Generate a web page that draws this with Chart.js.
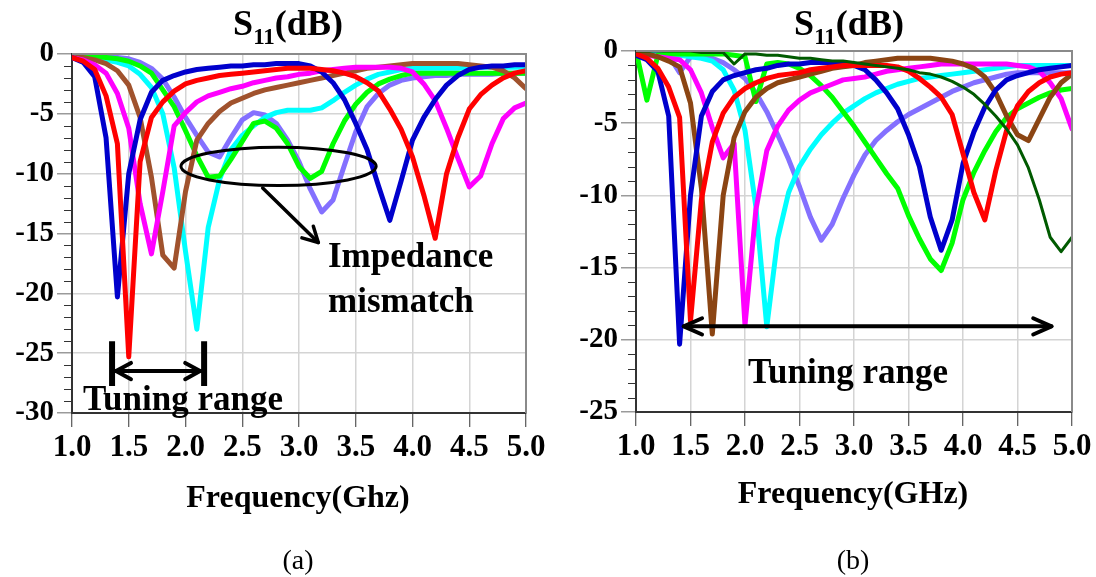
<!DOCTYPE html>
<html><head><meta charset="utf-8">
<script src="https://cdn.jsdelivr.net/npm/chart.js@4.4.1/dist/chart.umd.min.js"></script>
<style>
html,body{margin:0;padding:0;background:#fff;}
#wrap{position:relative;width:1096px;height:577px;overflow:hidden;background:#fff;}
.cv{position:absolute;top:0;width:548px;height:577px;}
canvas{display:block;}
</style></head><body>
<div id="wrap">
<div class="cv" style="left:0"><canvas id="ca" width="548" height="577"></canvas></div>
<div class="cv" style="left:548px"><canvas id="cb" width="548" height="577"></canvas></div>
</div>
<script>
// ---------------- DATA ----------------
const freq = [1.0,1.1,1.2,1.3,1.4,1.5,1.6,1.7,1.8,1.9,2.0,2.1,2.2,2.3,2.4,2.5,2.6,2.7,2.8,2.9,3.0,
              3.1,3.2,3.3,3.4,3.5,3.6,3.7,3.8,3.9,4.0,4.1,4.2,4.3,4.4,4.5,4.6,4.7,4.8,4.9,5.0];
const xTickValues = [1.0,1.5,2.0,2.5,3.0,3.5,4.0,4.5,5.0];
const xTickLabels = ['1.0','1.5','2.0','2.5','3.0','3.5','4.0','4.5','5.0'];
const yTickValuesA = [0,-5,-10,-15,-20,-25,-30];
const yTickLabelsA = ['0','-5','-10','-15','-20','-25','-30'];
const yTickValuesB = [0,-5,-10,-15,-20,-25];
const yTickLabelsB = ['0','-5','-10','-15','-20','-25'];

// panel (a)
const blueA    = [-0.3,-0.7,-1.9,-7.0,-20.3,-10.0,-5.5,-3.2,-2.2,-1.8,-1.5,-1.3,-1.2,-1.1,-1.0,-1.0,-0.9,-0.9,-0.8,-0.8,-0.8,-1.0,-1.5,-2.4,-3.8,-5.8,-8.0,-11.0,-13.9,-10.6,-7.2,-5.3,-3.8,-2.6,-1.8,-1.3,-1.1,-1.0,-1.0,-0.9,-0.9];
const redA     = [-0.3,-0.6,-1.3,-3.5,-7.5,-25.3,-9.0,-5.3,-4.0,-3.1,-2.5,-2.2,-2.0,-1.8,-1.7,-1.6,-1.5,-1.4,-1.3,-1.2,-1.2,-1.2,-1.3,-1.4,-1.6,-1.9,-2.4,-3.1,-4.6,-6.3,-8.6,-11.8,-15.4,-10.0,-7.0,-4.6,-3.4,-2.6,-2.0,-1.6,-1.4];
const magentaA = [-0.3,-0.5,-0.9,-1.6,-3.3,-6.2,-12.5,-16.7,-11.5,-6.0,-4.9,-4.0,-3.5,-3.2,-2.9,-2.7,-2.4,-2.2,-2.0,-1.9,-1.7,-1.6,-1.4,-1.3,-1.2,-1.1,-1.1,-1.1,-1.1,-1.2,-1.5,-2.5,-3.9,-6.2,-8.7,-11.1,-10.2,-7.5,-5.4,-4.5,-4.1];
const brownA   = [-0.2,-0.3,-0.5,-0.8,-1.4,-2.6,-5.3,-10.3,-16.8,-17.9,-11.5,-7.2,-5.8,-4.8,-4.1,-3.7,-3.3,-3.0,-2.8,-2.6,-2.4,-2.2,-2.0,-1.8,-1.6,-1.4,-1.2,-1.1,-1.0,-0.9,-0.8,-0.8,-0.8,-0.8,-0.8,-0.9,-1.0,-1.1,-1.4,-2.0,-2.9];
const cyanA    = [-0.1,-0.2,-0.3,-0.5,-0.7,-1.0,-1.7,-2.8,-5.0,-9.5,-16.5,-23.0,-14.5,-10.5,-8.0,-6.8,-6.0,-5.3,-4.9,-4.7,-4.7,-4.7,-4.5,-3.9,-3.2,-2.6,-2.1,-1.7,-1.5,-1.3,-1.2,-1.2,-1.2,-1.2,-1.2,-1.1,-1.1,-1.1,-1.1,-1.1,-1.1];
const greenA   = [-0.1,-0.1,-0.2,-0.3,-0.4,-0.6,-1.0,-1.6,-3.0,-4.4,-6.4,-8.5,-10.3,-10.2,-8.8,-7.3,-5.8,-5.6,-6.2,-7.5,-9.4,-10.4,-9.8,-7.5,-5.6,-4.2,-3.2,-2.5,-2.1,-1.8,-1.6,-1.6,-1.6,-1.6,-1.6,-1.6,-1.6,-1.6,-1.6,-1.6,-1.6];
const purpleA  = [0.0,-0.1,-0.1,-0.2,-0.3,-0.4,-0.7,-1.2,-2.1,-3.6,-5.3,-6.8,-8.2,-8.6,-7.0,-5.5,-4.9,-5.1,-5.8,-7.2,-9.0,-11.3,-13.2,-12.2,-9.3,-6.5,-4.4,-3.3,-2.6,-2.2,-2.0,-1.9,-1.8,-1.8,-1.7,-1.7,-1.7,-1.7,-1.6,-1.6,-1.6];

// panel (b)
const blueB      = [-0.3,-0.6,-1.4,-4.5,-20.3,-10.0,-4.5,-2.8,-2.0,-1.7,-1.5,-1.3,-1.2,-1.0,-0.9,-0.9,-0.8,-0.8,-0.8,-0.9,-1.0,-1.3,-2.0,-2.9,-4.0,-5.8,-8.0,-11.5,-13.8,-11.7,-7.8,-5.6,-3.9,-2.7,-2.0,-1.7,-1.5,-1.3,-1.2,-1.1,-1.0];
const redB       = [-0.2,-0.5,-1.2,-2.5,-4.6,-18.7,-10.3,-6.3,-4.3,-3.2,-2.6,-2.2,-1.9,-1.7,-1.6,-1.5,-1.3,-1.2,-1.1,-1.0,-1.0,-1.0,-1.0,-1.0,-1.1,-1.4,-1.9,-2.5,-3.2,-4.4,-7.1,-9.8,-11.7,-8.3,-5.5,-3.8,-2.8,-2.2,-1.8,-1.6,-1.5];
const brownB     = [-0.1,-0.2,-0.4,-0.7,-1.1,-3.6,-9.5,-19.6,-10.0,-6.0,-4.2,-3.2,-2.6,-2.2,-2.0,-1.8,-1.6,-1.4,-1.2,-1.1,-1.0,-0.8,-0.7,-0.6,-0.5,-0.5,-0.5,-0.5,-0.6,-0.7,-0.9,-1.2,-1.8,-2.9,-4.5,-5.8,-6.2,-4.7,-3.2,-2.2,-1.6];
const magentaB   = [-0.2,-0.3,-0.4,-0.5,-0.6,-1.3,-2.9,-5.3,-7.4,-6.4,-19.0,-11.0,-6.9,-5.2,-4.1,-3.4,-2.9,-2.6,-2.3,-2.0,-1.9,-1.8,-1.6,-1.4,-1.3,-1.2,-1.1,-1.0,-0.9,-0.9,-0.9,-0.9,-0.9,-0.9,-0.9,-1.0,-1.1,-1.4,-2.2,-3.3,-5.4];
const cyanB      = [-0.1,-0.2,-0.3,-0.3,-0.3,-0.4,-0.5,-0.7,-1.3,-2.7,-5.5,-10.8,-19.1,-13.0,-9.8,-8.0,-6.8,-5.8,-5.0,-4.3,-3.8,-3.3,-2.9,-2.6,-2.3,-2.1,-1.9,-1.8,-1.7,-1.6,-1.5,-1.4,-1.3,-1.2,-1.1,-1.0,-1.0,-1.0,-1.0,-1.0,-1.0];
const purpleB    = [-0.1,-0.2,-0.2,-0.3,-1.5,-0.4,-0.4,-0.5,-0.8,-1.3,-1.9,-2.9,-4.2,-5.8,-7.5,-9.4,-11.5,-13.1,-12.0,-10.2,-8.6,-7.2,-6.2,-5.5,-4.9,-4.4,-4.0,-3.6,-3.2,-2.8,-2.5,-2.2,-2.0,-1.8,-1.6,-1.5,-1.5,-1.5,-1.5,-1.5,-1.5];
const greenB     = [0.0,-3.4,-0.3,-0.2,-0.2,-0.2,-0.2,-0.2,-0.2,-0.3,-0.4,-3.5,-0.9,-0.8,-0.9,-1.2,-1.7,-2.4,-3.2,-4.2,-5.2,-6.3,-7.4,-8.5,-9.5,-11.4,-13.0,-14.4,-15.2,-13.3,-10.3,-8.4,-6.9,-5.6,-4.6,-4.0,-3.6,-3.2,-2.9,-2.7,-2.6];
const darkGreenB = [0.0,0.0,0.0,0.0,0.0,0.0,-0.1,-0.1,-0.1,-0.9,-0.2,-0.2,-0.3,-0.3,-0.4,-0.5,-0.5,-0.6,-0.7,-0.7,-0.8,-0.9,-1.0,-1.1,-1.2,-1.3,-1.5,-1.6,-1.8,-2.1,-2.5,-3.0,-3.7,-4.5,-5.4,-6.5,-8.1,-10.3,-12.9,-13.9,-12.9];

// ---------------- STYLE ----------------
const FONT = '"Liberation Serif","Times New Roman",Times,serif';
const C = {blue:'#0000CC', red:'#FF0000', magenta:'#FF00FF', brownA:'#A0522D', brownB:'#8B4513',
           cyan:'#00FFFF', green:'#00FF00', purple:'#8470FF', dkgreen:'#005A00'};

function pts(arr){ return freq.map((f,i)=>({x:f,y:arr[i]})); }
function ds(arr,color,w){ return {data:pts(arr),borderColor:color,borderWidth:w||5,pointRadius:0,fill:false,tension:0}; }

function arrowHead(ctx,x,y,ang,len,spread){
  ctx.beginPath();
  ctx.moveTo(x - len*Math.cos(ang-spread), y - len*Math.sin(ang-spread));
  ctx.lineTo(x,y);
  ctx.lineTo(x - len*Math.cos(ang+spread), y - len*Math.sin(ang+spread));
  ctx.stroke();
}
function drawTitle(ctx,cx,base){
  ctx.save();
  ctx.fillStyle='#000'; ctx.textAlign='left'; ctx.textBaseline='alphabetic';
  const big='bold 36px '+FONT, small='bold 23px '+FONT;
  ctx.font=big; const w1=ctx.measureText('S').width, w3=ctx.measureText('(dB)').width;
  ctx.font=small; const w2=ctx.measureText('11').width;
  let x=cx-(w1+w2+w3)/2;
  ctx.font=big; ctx.fillText('S',x,base); x+=w1;
  ctx.font=small; ctx.fillText('11',x,base+9); x+=w2;
  ctx.font=big; ctx.fillText('(dB)',x,base);
  ctx.restore();
}
function text(ctx,str,x,y,size,bold,align){
  ctx.save(); ctx.fillStyle='#000';
  ctx.font=(bold?'bold ':'')+size+'px '+FONT;
  ctx.textAlign=align||'center'; ctx.textBaseline='alphabetic';
  ctx.fillText(str,x,y); ctx.restore();
}
function frameAndMinor(chart, yMin){
  const {ctx, chartArea:a, scales:{y}} = chart;
  ctx.save();
  ctx.strokeStyle='#333'; ctx.lineWidth=1;
  for(let v=0; v>=yMin; v--){
    if(v%5===0) continue;
    const py=Math.round(y.getPixelForValue(v))+0.5;
    ctx.beginPath(); ctx.moveTo(a.left-8,py); ctx.lineTo(a.left,py); ctx.stroke();
  }
  ctx.strokeStyle='#8a8a8a'; ctx.lineWidth=2;
  ctx.beginPath(); ctx.moveTo(a.left,a.top); ctx.lineTo(a.right,a.top); ctx.lineTo(a.right,a.bottom); ctx.stroke();
  ctx.restore();
}

// annotation anchors (data coordinates)
const annA = {ellipse:{f:2.82, db:-9.39, rf:0.86, rdb:1.6},
              arrow:{f1:2.68, db1:-11.2, f2:3.17, db2:-15.75},
              tuning:{f1:1.353, f2:2.164, dbTop:-24.0, dbBot:-27.75, dbArrow:-26.5}};
const annB = {arrow:{f1:1.42, f2:4.83, db:-19.07}};

const pluginA = {id:'annA', afterDraw(chart){
  const {ctx, scales:{x,y}} = chart;
  frameAndMinor(chart,-30);
  drawTitle(ctx,288,35);
  // ellipse
  const e=annA.ellipse;
  const cx=x.getPixelForValue(e.f), cy=y.getPixelForValue(e.db);
  const rx=x.getPixelForValue(e.f+e.rf)-cx, ry=y.getPixelForValue(e.db-e.rdb)-cy;
  ctx.save(); ctx.strokeStyle='#000'; ctx.lineWidth=3; ctx.lineCap='round'; ctx.lineJoin='round';
  ctx.beginPath(); ctx.ellipse(cx,cy,rx,ry,0,0,Math.PI*2); ctx.stroke();
  // arrow to text
  const ar=annA.arrow;
  const x1=x.getPixelForValue(ar.f1), y1=y.getPixelForValue(ar.db1), x2=x.getPixelForValue(ar.f2), y2=y.getPixelForValue(ar.db2);
  ctx.lineWidth=3.5;
  ctx.beginPath(); ctx.moveTo(x1,y1); ctx.lineTo(x2,y2); ctx.stroke();
  arrowHead(ctx,x2,y2,Math.atan2(y2-y1,x2-x1),17,0.5);
  // tuning range bars + arrow
  const t=annA.tuning;
  const tx1=x.getPixelForValue(t.f1), tx2=x.getPixelForValue(t.f2);
  const ty1=y.getPixelForValue(t.dbTop), ty2=y.getPixelForValue(t.dbBot), ta=y.getPixelForValue(t.dbArrow);
  ctx.lineWidth=6; ctx.lineCap='butt';
  ctx.beginPath(); ctx.moveTo(tx1,ty1); ctx.lineTo(tx1,ty2); ctx.moveTo(tx2,ty1); ctx.lineTo(tx2,ty2); ctx.stroke();
  ctx.lineWidth=4; ctx.lineCap='round';
  ctx.beginPath(); ctx.moveTo(tx1+3,ta); ctx.lineTo(tx2-3,ta); ctx.stroke();
  arrowHead(ctx,tx1+4,ta,Math.PI,17,0.5);
  arrowHead(ctx,tx2-4,ta,0,17,0.5);
  ctx.restore();
  text(ctx,'Tuning range',183,410,35,true);
  text(ctx,'Impedance',328,267,35,true,'left');
  text(ctx,'mismatch',328,312,35,true,'left');
  text(ctx,'Frequency(Ghz)',298,507,32,true);
  text(ctx,'(a)',298,569,28,false);
}};
const pluginB = {id:'annB', afterDraw(chart){
  const {ctx, scales:{x,y}} = chart;
  frameAndMinor(chart,-25);
  drawTitle(ctx,301,35);
  const ar=annB.arrow;
  const x1=x.getPixelForValue(ar.f1), x2=x.getPixelForValue(ar.f2), yy=y.getPixelForValue(ar.db);
  ctx.save(); ctx.strokeStyle='#000'; ctx.lineWidth=4; ctx.lineCap='round'; ctx.lineJoin='round';
  ctx.beginPath(); ctx.moveTo(x1+2,yy); ctx.lineTo(x2-2,yy); ctx.stroke();
  arrowHead(ctx,x1+2,yy,Math.PI,20,0.42);
  arrowHead(ctx,x2-2,yy,0,20,0.42);
  ctx.restore();
  text(ctx,'Tuning range',300,383,35,true);
  text(ctx,'Frequency(GHz)',305,503,32,true);
  text(ctx,'(b)',305,569,28,false);
}};

function options(p){
  return {
    responsive:false, animation:false, devicePixelRatio:1, events:[],
    layout:{padding:{left:0,top:p.top,right:p.right,bottom:0}},
    plugins:{legend:{display:false}, tooltip:{enabled:false}, title:{display:false}},
    elements:{line:{borderJoinStyle:'round',borderCapStyle:'round'}},
    scales:{
      x:{type:'linear', min:1, max:5,
         afterBuildTicks:s=>{ s.ticks = xTickValues.map(v=>({value:v})); },
         afterFit:s=>{ s.height=p.xh; },
         ticks:{callback:(v,i)=>xTickLabels[i], font:{family:FONT,size:31,weight:'bold'}, color:'#000',
                padding:2, maxRotation:0, minRotation:0, autoSkip:false},
         grid:{color:'#d4d4d4', lineWidth:1.5, tickLength:14, tickColor:'#333', tickWidth:1},
         border:{display:true, color:'#333', width:2}},
      y:{type:'linear', min:p.ymin, max:0,
         afterBuildTicks:s=>{ s.ticks = p.yv.map(v=>({value:v})); },
         afterFit:s=>{ s.width=p.yw; },
         ticks:{callback:(v,i)=>p.yl[i], font:{family:FONT,size:29,weight:'bold'}, color:'#000', padding:3},
         grid:{color:'#d4d4d4', lineWidth:1.5, tickLength:15, tickColor:'#9a9a9a', tickWidth:1.5},
         border:{display:true, color:'#333', width:2}}
    }
  };
}

new Chart(document.getElementById('ca'), {
  type:'line',
  data:{datasets:[ds(redA,C.red), ds(blueA,C.blue), ds(magentaA,C.magenta), ds(brownA,C.brownA),
                  ds(greenA,C.green), ds(cyanA,C.cyan), ds(purpleA,C.purple)]},
  options:options({top:54,right:22,xh:164,yw:72,ymin:-30,yv:yTickValuesA,yl:yTickLabelsA}),
  plugins:[pluginA]
});
new Chart(document.getElementById('cb'), {
  type:'line',
  data:{datasets:[ds(darkGreenB,C.dkgreen,3), ds(redB,C.red), ds(blueB,C.blue), ds(brownB,C.brownB),
                  ds(magentaB,C.magenta), ds(greenB,C.green), ds(cyanB,C.cyan), ds(purpleB,C.purple)]},
  options:options({top:51,right:24,xh:165,yw:88,ymin:-25,yv:yTickValuesB,yl:yTickLabelsB}),
  plugins:[pluginB]
});
</script>
</body></html>
